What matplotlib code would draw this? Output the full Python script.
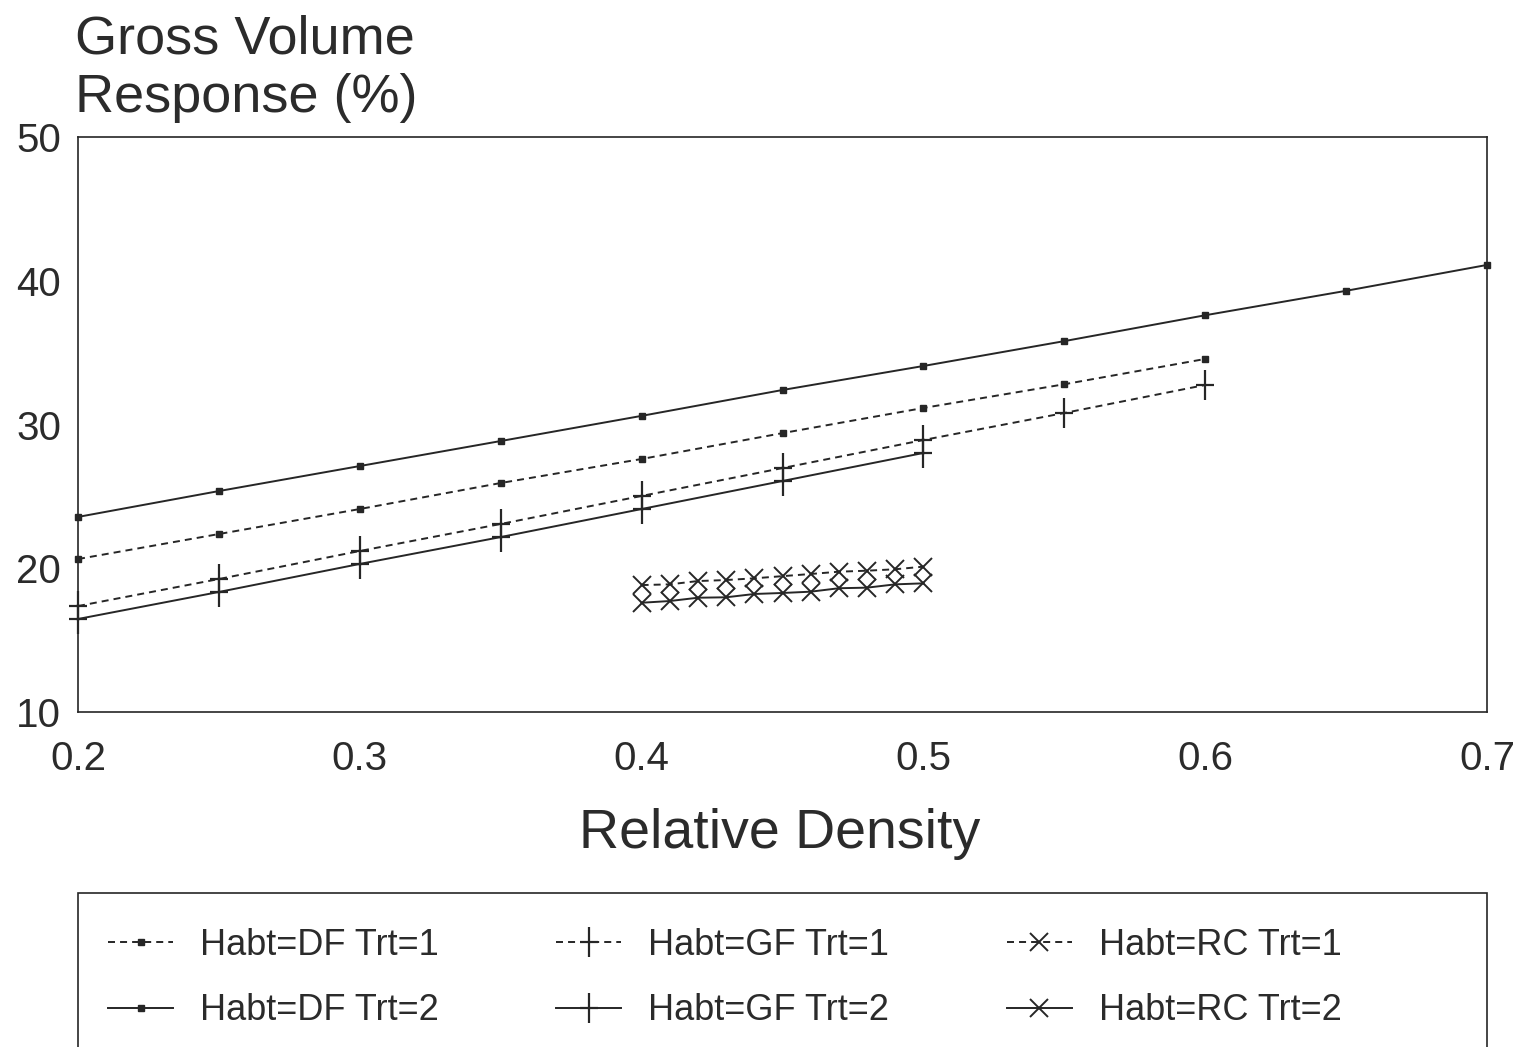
import matplotlib
matplotlib.use("Agg")
import matplotlib.pyplot as plt
from matplotlib.path import Path
from matplotlib.patches import Rectangle

plt.rcParams['font.family'] = ['Liberation Sans', 'DejaVu Sans']

# ---- data ----
x_df2 = [0.20, 0.25, 0.30, 0.35, 0.40, 0.45, 0.50, 0.55, 0.60, 0.65, 0.70]
df2 = [23.57, 25.37, 27.11, 28.85, 30.6, 32.4, 34.07, 35.8, 37.6, 39.3, 41.1]
x_df1 = [0.20, 0.25, 0.30, 0.35, 0.40, 0.45, 0.50, 0.55, 0.60]
df1 = [20.64, 22.38, 24.12, 25.93, 27.6, 29.4, 31.15, 32.8, 34.56]
x_gf1 = [0.20, 0.25, 0.30, 0.35, 0.40, 0.45, 0.50, 0.55, 0.60]
gf1 = [17.37, 19.25, 21.2, 23.08, 25.03, 26.97, 28.92, 30.8, 32.75]
x_gf2 = [0.20, 0.25, 0.30, 0.35, 0.40, 0.45, 0.50]
gf2 = [16.47, 18.35, 20.3, 22.17, 24.12, 26.07, 28.02]
x_rc = [0.40, 0.41, 0.42, 0.43, 0.44, 0.45, 0.46, 0.47, 0.48, 0.49, 0.50]
rc1 = [18.83, 18.88, 19.11, 19.18, 19.30, 19.45, 19.6, 19.76, 19.83, 19.93, 20.11]
rc2 = [17.60, 17.72, 17.95, 17.98, 18.21, 18.28, 18.37, 18.61, 18.65, 18.88, 18.95]

labels = ["Habt=DF Trt=1", "Habt=DF Trt=2", "Habt=GF Trt=1",
          "Habt=GF Trt=2", "Habt=RC Trt=1", "Habt=RC Trt=2"]
xticks = [0.2, 0.3, 0.4, 0.5, 0.6, 0.7]
xticklabels = ["0.2", "0.3", "0.4", "0.5", "0.6", "0.7"]
yticks = [10, 20, 30, 40, 50]
yticklabels = ["10", "20", "30", "40", "50"]

TXT = '#2b2b2b'
LC = '#262626'
W, H = 1518, 1047
fig = plt.figure(figsize=(W / 100, H / 100), dpi=100)
ax = fig.add_axes([78 / W, 1 - 712 / H, (1487 - 78) / W, (712 - 137) / H])

plus = Path([(-0.62, 0), (0.62, 0), (0, -1), (0, 1)],
            [Path.MOVETO, Path.LINETO, Path.MOVETO, Path.LINETO])

dash = (0, (3.6, 2.6))
lw = 1.4
common = dict(color=LC, lw=lw, clip_on=False, markeredgecolor=LC)
h1, = ax.plot(x_df1, df1, ls=dash, marker='s', ms=4.5, mfc=LC, **common)
h2, = ax.plot(x_df2, df2, ls='-', marker='s', ms=4.5, mfc=LC, **common)
h3, = ax.plot(x_gf1, gf1, ls=dash, marker=plus, ms=22, mew=1.6, **common)
h4, = ax.plot(x_gf2, gf2, ls='-', marker=plus, ms=22, mew=1.6, **common)
h5, = ax.plot(x_rc, rc1, ls=dash, marker='x', ms=12.5, mew=1.4, **common)
h6, = ax.plot(x_rc, rc2, ls='-', marker='x', ms=12.5, mew=1.4, **common)

ax.set_xlim(0.2, 0.7)
ax.set_ylim(10, 50)
ax.set_xticks(xticks)
ax.set_xticklabels(xticklabels)
ax.set_yticks(yticks)
ax.set_yticklabels(yticklabels)
ax.tick_params(axis='both', length=0, labelsize=29, colors=TXT)
ax.tick_params(axis='x', pad=20)
ax.tick_params(axis='y', pad=12)
for s in ax.spines.values():
    s.set_linewidth(1.2)
    s.set_color(LC)

fig.text(75 / W, 1 - 54 / H, "Gross Volume", fontsize=39, color=TXT,
         ha='left', va='baseline')
fig.text(75 / W, 1 - 112 / H, "Response (%)", fontsize=39, color=TXT,
         ha='left', va='baseline')
fig.text(780 / W, 1 - 848 / H, "Relative Density", fontsize=40, color=TXT,
         ha='center', va='baseline')

# legend frame (extends past bottom edge)
fig.add_artist(Rectangle((78 / W, -0.05), (1487 - 78) / W, 0.05 + (1047 - 893) / H,
                         transform=fig.transFigure, fill=False, ec=LC, lw=1.2))

leg = fig.legend([h1, h2, h3, h4, h5, h6], labels, ncol=3,
                 loc='upper left', bbox_to_anchor=(108 / W, 1 - 928 / H),
                 frameon=False, fontsize=26, handlelength=1.8, handletextpad=0.75,
                 columnspacing=3.25, labelspacing=0.84, borderpad=0, borderaxespad=0,
                 numpoints=1)
for t in leg.get_texts():
    t.set_color(TXT)

fig.savefig("out.png", dpi=100)
